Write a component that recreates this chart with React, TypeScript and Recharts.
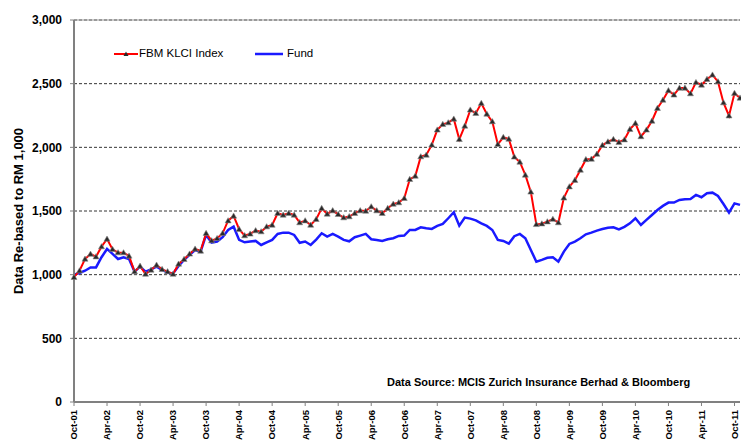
import { LineChart, Line, XAxis, YAxis, CartesianGrid, ReferenceLine, Legend, Label } from "recharts";

const FONT = "Arial, 'Liberation Sans', sans-serif";

// month labels Oct-01 .. Nov-11
const MONTH_NAMES = ["Jan", "Feb", "Mar", "Apr", "May", "Jun", "Jul", "Aug", "Sep", "Oct", "Nov", "Dec"];
const months: string[] = [];
for (let i = 0; i < 122; i++) {
  const m = (9 + i) % 12;
  const yr = 1 + Math.floor((9 + i) / 12);
  months.push(`${MONTH_NAMES[m]}-${String(yr).padStart(2, "0")}`);
}

const klci = [
  980, 1031, 1123, 1162, 1141, 1220, 1280, 1199, 1173, 1173, 1147, 1024,
  1068, 1005, 1037, 1076, 1042, 1024, 1005, 1084, 1121, 1163, 1202, 1186,
  1325, 1267, 1285, 1325, 1424, 1461, 1357, 1307, 1320, 1346, 1338, 1377,
  1390, 1482, 1469, 1482, 1469, 1409, 1424, 1390, 1435, 1521, 1477, 1503,
  1474, 1448, 1456, 1482, 1503, 1500, 1534, 1503, 1482, 1521, 1555, 1566,
  1600, 1749, 1775, 1927, 1940, 2019, 2137, 2181, 2194, 2223, 2063, 2168,
  2294, 2268, 2346, 2262, 2202, 2024, 2079, 2066, 1925, 1885, 1783, 1650,
  1395, 1400, 1416, 1436, 1409, 1603, 1691, 1742, 1822, 1905, 1908, 1947,
  2016, 2044, 2063, 2040, 2060, 2142, 2189, 2085, 2137, 2207, 2307, 2372,
  2446, 2412, 2466, 2466, 2422, 2510, 2490, 2535, 2569, 2516, 2351, 2248,
  2425, 2388,
];

const fund = [
  1000, 1013, 1031, 1057, 1057, 1137, 1202, 1163, 1123, 1137, 1123, 1024,
  1063, 1024, 1042, 1063, 1037, 1016, 1010, 1068, 1116, 1155, 1194, 1181,
  1312, 1252, 1260, 1294, 1351, 1377, 1273, 1254, 1260, 1265, 1233, 1254,
  1273, 1320, 1330, 1330, 1312, 1250, 1260, 1233, 1276, 1325, 1299, 1320,
  1299, 1273, 1262, 1294, 1307, 1320, 1278, 1273, 1265, 1278, 1286, 1304,
  1307, 1351, 1351, 1372, 1364, 1359, 1383, 1398, 1443, 1490, 1385, 1448,
  1440, 1427, 1403, 1383, 1351, 1273, 1265, 1244, 1302, 1320, 1286, 1194,
  1102, 1116, 1133, 1137, 1102, 1181, 1241, 1260, 1286, 1317, 1330, 1346,
  1359, 1369, 1372, 1355, 1375, 1403, 1443, 1390, 1430, 1469, 1508, 1540,
  1566, 1566, 1587, 1592, 1595, 1626, 1608, 1639, 1644, 1618, 1555, 1487,
  1560, 1548,
];

const yTicks = [0, 500, 1000, 1500, 2000, 2500, 3000];

const data = months.map((m, i) => ({ month: m, klci: klci[i], fund: fund[i] }));

const Tri = (props: any) => {
  const { cx, cy } = props;
  if (cx == null || cy == null) return null;
  return (
    <path
      d={`M${cx},${cy - 3} L${cx + 3},${cy + 2.2} L${cx - 3},${cy + 2.2} Z`}
      fill="#2a2a2a"
      stroke="#888"
      strokeWidth={0.6}
    />
  );
};

const XTick = (props: any) => {
  const { x, y, payload } = props;
  return (
    <g transform={`translate(${x},${y})`}>
      <text
        transform="rotate(-90)"
        x={-2}
        y={0}
        dy="0.35em"
        textAnchor="end"
        fontSize={9.5}
        fontWeight="bold"
        fontFamily={FONT}
        fill="#000"
      >
        {payload.value}
      </text>
    </g>
  );
};

const LegendBox = () => (
  <div style={{ position: "relative", height: 16, fontFamily: FONT, fontSize: 11.5, color: "#000" }}>
    <svg width={24} height={10} style={{ position: "absolute", left: 0, top: 3 }}>
      <line x1={0} y1={5} x2={24} y2={5} stroke="#ff0000" strokeWidth={2} />
      <path d="M12,2.5 L14.5,7 L9.5,7 Z" fill="#2a2a2a" />
    </svg>
    <span style={{ position: "absolute", left: 25, top: 1, whiteSpace: "nowrap" }}>FBM KLCI Index</span>
    <svg width={28} height={10} style={{ position: "absolute", left: 141, top: 3 }}>
      <line x1={0} y1={5} x2={28} y2={5} stroke="#1a1aff" strokeWidth={2.5} />
    </svg>
    <span style={{ position: "absolute", left: 173, top: 1, whiteSpace: "nowrap" }}>Fund</span>
  </div>
);

export default function App() {
  return (
    <div style={{ position: "fixed", left: 0, top: 0, width: 741, height: 440, overflow: "hidden", background: "#fff" }}>
      <LineChart width={760} height={460} data={data} margin={{ top: 20, right: 20, left: 0, bottom: 8 }}>
        <CartesianGrid vertical={false} stroke="#000" strokeDasharray="3 2" strokeWidth={0.8} />
        <ReferenceLine y={3000} stroke="#9a9a9a" strokeWidth={1.2} />
        <XAxis
          dataKey="month"
          interval={5}
          height={50}
          tickSize={4}
          tickMargin={2}
          tick={<XTick />}
          axisLine={{ stroke: "#808080", strokeWidth: 2 }}
          tickLine={{ stroke: "#808080", strokeWidth: 1 }}
        />
        <YAxis
          width={74}
          domain={[0, 3000]}
          ticks={yTicks}
          interval={0}
          tickSize={4}
          tickMargin={8}
          tickFormatter={(v: number) => v.toLocaleString("en-US")}
          tick={{ fontSize: 12, fontWeight: "bold", fill: "#000", fontFamily: FONT }}
          axisLine={{ stroke: "#808080", strokeWidth: 2 }}
          tickLine={{ stroke: "#808080", strokeWidth: 1 }}
        >
          <Label
            value="Data Re-based to RM 1,000"
            angle={-90}
            position="center"
            dx={-19}
            style={{ fontSize: 13, fontWeight: "bold", fill: "#000", fontFamily: FONT }}
          />
        </YAxis>
        <Legend
          layout="horizontal"
          verticalAlign="middle"
          align="center"
          content={<LegendBox />}
          wrapperStyle={{ position: "absolute", left: 114, top: 46, width: 220 }}
        />
        <Line
          type="linear"
          dataKey="fund"
          name="Fund"
          stroke="#1a1aff"
          strokeWidth={2.5}
          dot={false}
          isAnimationActive={false}
        />
        <Line
          type="linear"
          dataKey="klci"
          name="FBM KLCI Index"
          stroke="#ff0000"
          strokeWidth={2}
          dot={<Tri />}
          isAnimationActive={false}
        />
      </LineChart>
      <div
        style={{
          position: "absolute",
          left: 387,
          top: 376,
          fontFamily: FONT,
          fontSize: 11,
          fontWeight: "bold",
          color: "#000",
          whiteSpace: "nowrap",
        }}
      >
        Data Source: MCIS Zurich Insurance Berhad &amp; Bloomberg
      </div>
    </div>
  );
}
